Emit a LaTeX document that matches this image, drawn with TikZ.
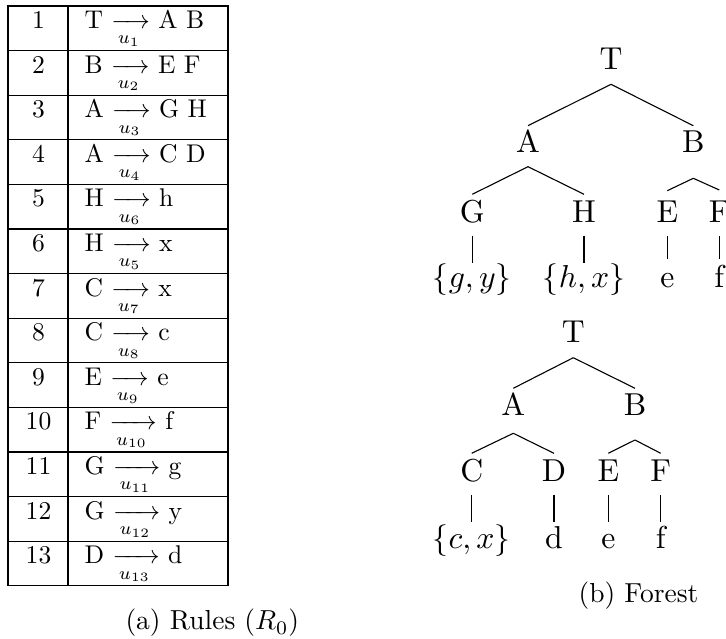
\documentclass[tikz,border=0pt]{standalone}
\usepackage{amsmath}
\usetikzlibrary{calc}
\begin{document}
\begin{tikzpicture}[x=0.3636pt,y=-0.3636pt,
  treenode/.style={anchor=base,inner sep=0pt,scale=1.153},
  tabnum/.style={anchor=base,inner sep=0pt,scale=0.93},
  tabrule/.style={anchor=base west,inner sep=0pt,scale=0.93},
  captext/.style={anchor=base west,inner sep=0pt},
  treeedge/.style={line width=0.4pt},
  tabline/.style={line width=0.45pt}]
\useasboundingbox (0,0) rectangle (726,639);
\newcommand\tedge[4]{\draw[treeedge] ($(#1.base)+(0,#2)$) -- ($(#3.base)+(0,#4)$);}

% ---------- table ----------
\draw[tabline] (8,6) rectangle (228,585.8);
\draw[tabline] (68,6) -- (68,585.8);
\foreach \k in {1,...,12}{
  \draw[tabline] (8,6+44.6*\k) -- (228,6+44.6*\k);
}
\foreach \n/\l/\r/\u in {1/T/A B/1, 2/B/E F/2, 3/A/G H/3, 4/A/C D/4,
    5/H/h/6, 6/H/x/5, 7/C/x/7, 8/C/c/8, 9/E/e/9, 10/F/f/10,
    11/G/g/11, 12/G/y/12, 13/D/d/13}{
  \node[tabnum] (num\n) at (38.5,{6+44.6*(\n-1)+22.5}) {\n};
  \node[tabrule] (rule\n) at (84,{6+44.6*(\n-1)+22.5}) {\l{} $\xrightarrow[u_{\u}]{}$ \r};
}
\node[captext] (capa) at (125,630) {(a) Rules ($R_0$)};

% ---------- tree 1 ----------
\node[treenode] (T1) at (611,70) {T};
\node[treenode] (A1) at (528,152.7) {A};
\node[treenode] (B1) at (693.3,152.7) {B};
\node[treenode] (G1) at (472.3,222.7) {G};
\node[treenode] (H1) at (584,222.7) {H};
\node[treenode] (E1) at (667.3,222.7) {E};
\node[treenode] (F1) at (719.3,222.7) {F};
\node[treenode] (g1) at (472.3,288) {$\{g,y\}$};
\node[treenode] (h1) at (584,288) {$\{h,x\}$};
\node[treenode] (e1) at (667.3,288) {e};
\node[treenode] (f1) at (719.3,288) {f};
\tedge{T1}{14.3}{A1}{-27}
\tedge{T1}{14.3}{B1}{-27}
\tedge{A1}{14}{G1}{-28.4}
\tedge{A1}{14}{H1}{-28.4}
\tedge{B1}{25.6}{E1}{-32}
\tedge{B1}{25.6}{F1}{-32.7}
\tedge{G1}{13}{g1}{-24.7}
\tedge{H1}{13}{h1}{-24.7}
\tedge{E1}{13.3}{e1}{-29}
\tedge{F1}{13.3}{f1}{-29}

% ---------- tree 2 ----------
\node[treenode] (T2) at (573.3,342.7) {T};
\node[treenode] (A2) at (513.3,415.7) {A};
\node[treenode] (B2) at (635,415.7) {B};
\node[treenode] (C2) at (471.7,481.7) {C};
\node[treenode] (D2) at (554,481.7) {D};
\node[treenode] (E2) at (608.3,481.7) {E};
\node[treenode] (F2) at (660.7,481.7) {F};
\node[treenode] (c2) at (471.7,548.3) {$\{c,x\}$};
\node[treenode] (d2) at (554,548.3) {d};
\node[treenode] (e2) at (608.3,548.3) {e};
\node[treenode] (f2) at (660.7,548.3) {f};
\tedge{T2}{15}{A2}{-27.4}
\tedge{T2}{15}{B2}{-27.4}
\tedge{A2}{17.6}{C2}{-28.4}
\tedge{A2}{17.6}{D2}{-28.4}
\tedge{B2}{24.3}{E2}{-28.4}
\tedge{B2}{24.3}{F2}{-28.4}
\tedge{C2}{13.3}{c2}{-26.6}
\tedge{D2}{13.3}{d2}{-26.6}
\tedge{E2}{13.3}{e2}{-26.6}
\tedge{F2}{13.3}{f2}{-26.6}
\node[captext] (capb) at (578,603) {(b) Forest};
\end{tikzpicture}
\end{document}
